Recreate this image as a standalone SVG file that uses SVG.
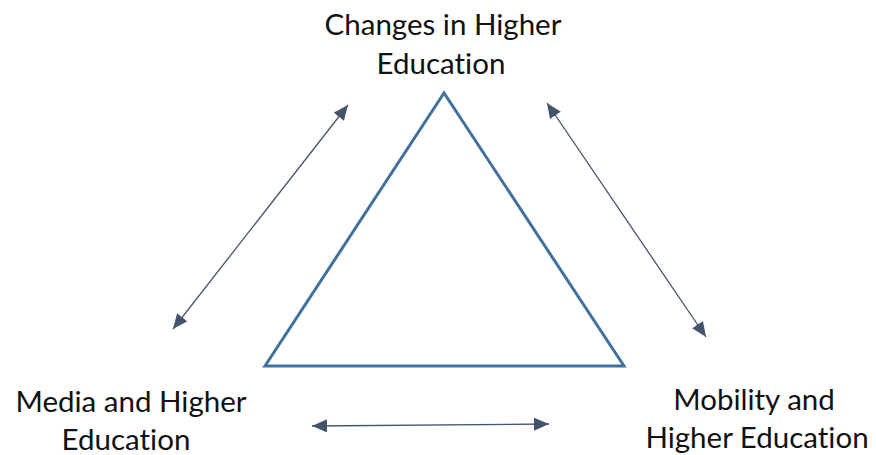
<svg xmlns="http://www.w3.org/2000/svg" width="876" height="455" viewBox="0 0 876 455">
<style>
.lbl{font-family:Lato,"Liberation Sans",sans-serif;font-size:29.5px;fill:#111;text-anchor:middle;font-variant-ligatures:none;font-feature-settings:"liga" 0}
.con{stroke:#44546A;stroke-width:1.3;fill:none;marker-start:url(#ah);marker-end:url(#ah)}
</style>
<defs>
<marker id="ah" markerUnits="userSpaceOnUse" markerWidth="16" markerHeight="14" refX="15" refY="6.5" orient="auto-start-reverse">
<path d="M0,0 L15,6.5 L0,13 z" fill="#44546A"/>
</marker>
</defs>
<rect width="876" height="455" fill="#fff"/>
<g id="triangle">
<polygon points="444,93 265,366 624,366" fill="none" stroke="#41719C" stroke-width="3"/>
</g>
<g id="changes">
<text class="lbl" x="443" y="35">Changes in Higher</text>
<text class="lbl" x="441" y="74">Education</text>
</g>
<g id="media">
<text class="lbl" x="131" y="412">Media and Higher</text>
<text class="lbl" x="126" y="450">Education</text>
</g>
<g id="mobility">
<text class="lbl" x="754" y="410">Mobility and</text>
<text class="lbl" x="757" y="448">Higher Education</text>
</g>
<g id="connectors">
<line class="con" x1="348" y1="105" x2="173" y2="329"/>
<line class="con" x1="547" y1="103" x2="706" y2="337"/>
<line class="con" x1="312" y1="426" x2="549" y2="424"/>
</g>
</svg>
